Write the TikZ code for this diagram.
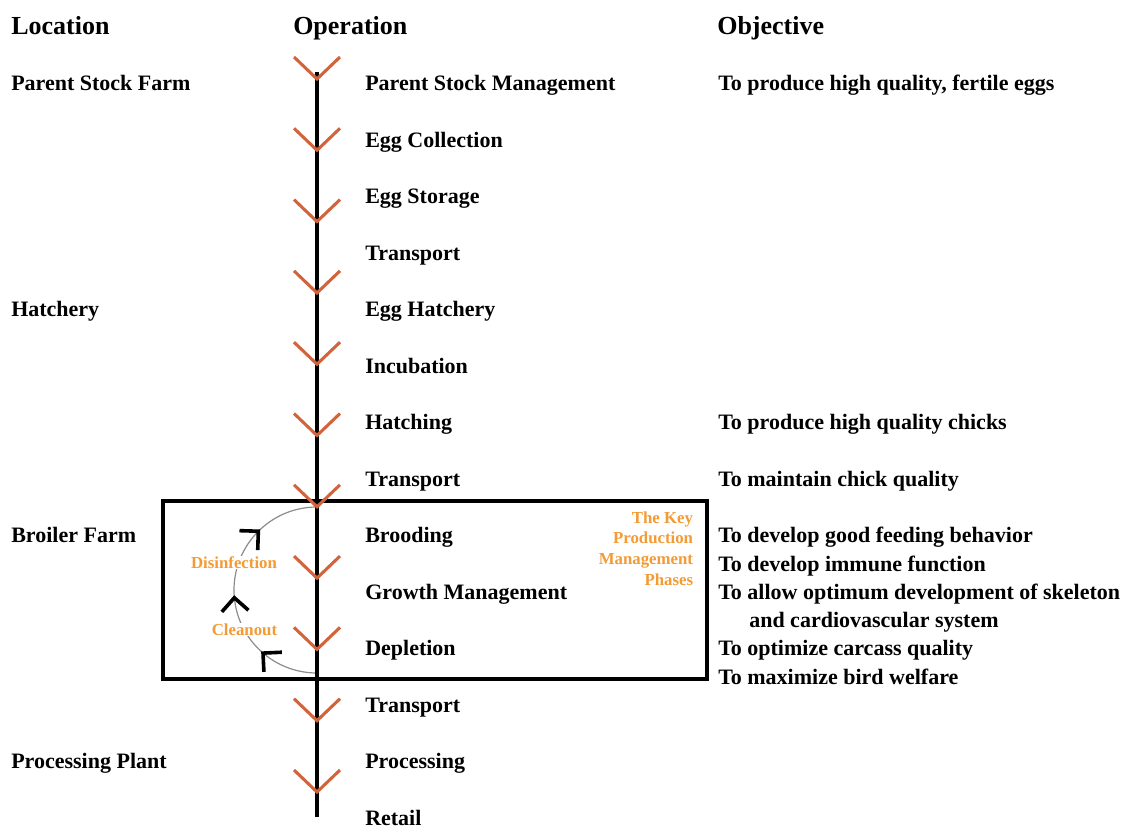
\documentclass[tikz,border=0pt]{standalone}
\usepackage{fontspec}
\setmainfont{Liberation Serif}
\usetikzlibrary{positioning, arrows.meta, decorations.markings}

\definecolor{veecolor}{HTML}{D2643C}
\definecolor{phaseorange}{HTML}{F39B34}
\definecolor{loopgray}{HTML}{8C8C8C}

\tikzset{
  head/.style={anchor=base west, inner sep=0pt, font=\bfseries\fontsize{19.5}{23}\selectfont},
  lbl/.style={anchor=base west, inner sep=0pt, font=\bfseries\fontsize{16.5}{20}\selectfont},
  phase/.style={inner sep=0.5pt, fill=white, text=phaseorange, font=\bfseries\fontsize{12.6}{15}\selectfont},
  vee/.style={draw=veecolor, line width=2.3pt},
  spine/.style={draw=black, line width=2.6pt},
  panel/.style={draw=black, line width=2.6pt},
  loopbarb/.tip={Straight Barb[length=10pt,width=20pt,line width=2.7pt,color=black]},
  loopline/.style={draw=loopgray, line width=0.9pt,
    decoration={markings,
      mark=at position 0.235 with {\arrow{loopbarb}},
      mark=at position 0.48 with {\arrow{loopbarb}},
      mark=at position 0.76 with {\arrow{loopbarb}}},
    postaction={decorate}},
}

\begin{document}
\begin{tikzpicture}[x=0.75pt,y=-0.75pt,node distance=42.35pt,on grid]
   \useasboundingbox (0,0) rectangle (1143,827);

   % column heads
   \node[head] (hloc) at (11,35) {Location};
   \node[head] (hop) at (293,35) {Operation};
   \node[head] (hobj) at (717,35) {Objective};

   % operations
   \node[lbl] (op1) at (365,91) {Parent Stock Management};
   \node[lbl] (op2) [below=of op1.base west, anchor=base west] {Egg Collection};
   \node[lbl] (op3) [below=of op2.base west, anchor=base west] {Egg Storage};
   \node[lbl] (op4) [below=of op3.base west, anchor=base west] {Transport};
   \node[lbl] (op5) [below=of op4.base west, anchor=base west] {Egg Hatchery};
   \node[lbl] (op6) [below=of op5.base west, anchor=base west] {Incubation};
   \node[lbl] (op7) [below=of op6.base west, anchor=base west] {Hatching};
   \node[lbl] (op8) [below=of op7.base west, anchor=base west] {Transport};
   \node[lbl] (op9) [below=of op8.base west, anchor=base west] {Brooding};
   \node[lbl] (op10) [below=of op9.base west, anchor=base west] {Growth Management};
   \node[lbl] (op11) [below=of op10.base west, anchor=base west] {Depletion};
   \node[lbl] (op12) [below=of op11.base west, anchor=base west] {Transport};
   \node[lbl] (op13) [below=of op12.base west, anchor=base west] {Processing};
   \node[lbl] (op14) [below=of op13.base west, anchor=base west] {Retail};

   % locations
   \node[lbl] (loc1) at (hloc.base west |- op1.base) {Parent Stock Farm};
   \node[lbl] (loc2) at (hloc.base west |- op5.base) {Hatchery};
   \node[lbl] (loc3) at (hloc.base west |- op9.base) {Broiler Farm};
   \node[lbl] (loc4) at (hloc.base west |- op13.base) {Processing Plant};

   % objectives
   \node[lbl] (obj1) at (718,0 |- op1.base) {To produce high quality, fertile eggs};
   \node[lbl] (obj7) at (obj1.base west |- op7.base) {To produce high quality chicks};
   \node[lbl] (obj8) at (obj1.base west |- op8.base) {To maintain chick quality};
   \node[lbl] (obj9) at (obj1.base west |- op9.base) {To develop good feeding behavior};
   \node[lbl] (obj9b) [below=21.2pt of obj9.base west, anchor=base west] {To develop immune function};
   \node[lbl] (obj10) [below=21.2pt of obj9b.base west, anchor=base west] {To allow optimum development of skeleton};
   \node[lbl] (obj10b) [below right=21.2pt and 23.25pt of obj10.base west, anchor=base west] {and cardiovascular system};
   \node[lbl] (obj11) [below=21.2pt of obj10b.base west, anchor=base west, xshift=-23.25pt] {To optimize carcass quality};
   \node[lbl] (obj11b) [below=21.2pt of obj11.base west, anchor=base west] {To maximize bird welfare};

   % key phases box
   \draw[panel] (163,501) rectangle (707,679);
   \coordinate (cbot) at (317,673);
   \draw[loopline] (cbot) arc[start angle=90, end angle=270, radius=83];
   \node[phase, anchor=base] (dis) at (234,568) {Disinfection};
   \node[phase, anchor=base] (clean) at (244.5,635) {Cleanout};
   \node[phase, anchor=base east] (key1) at (694,523) {The Key};
   \node[phase] (key2) [below=15.6pt of key1.base east, anchor=base east] {Production};
   \node[phase] (key3) [below=15.6pt of key2.base east, anchor=base east] {Management};
   \node[phase] (key4) [below=15.6pt of key3.base east, anchor=base east] {Phases};

   % flow line
   \coordinate (top) at (317,72);
   \coordinate (bot) at (317,817);
   \draw[spine] (top) -- (bot);
   \foreach \i in {0,...,10} {
      \coordinate (v\i) at (317, 79+71.3*\i);
      \draw[vee] (v\i) ++(-23,-22) -- (v\i) -- ++(23,-22);
   }
\end{tikzpicture}
\end{document}
